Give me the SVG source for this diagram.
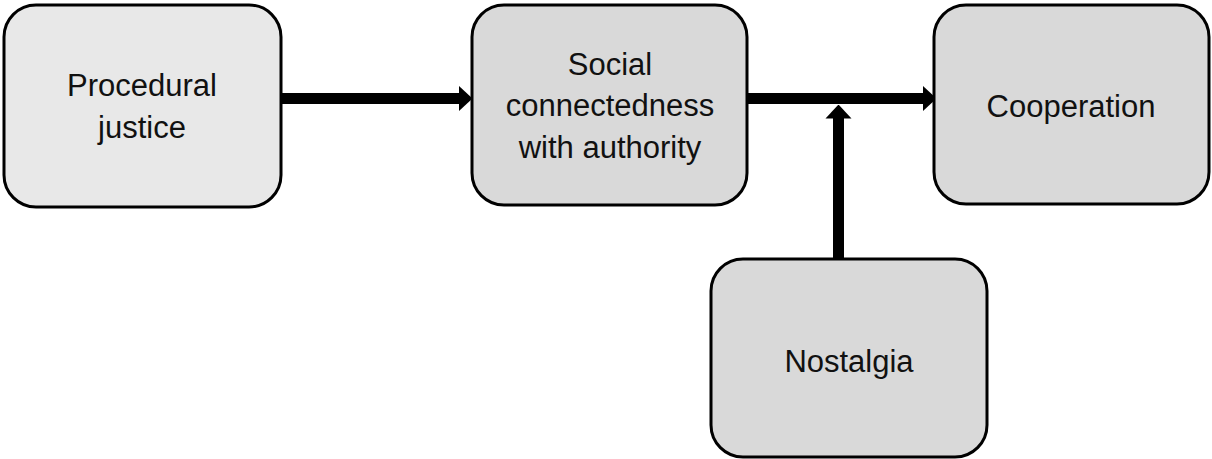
<svg xmlns="http://www.w3.org/2000/svg" width="1212" height="459" viewBox="0 0 1212 459">
<style>
.box{stroke:#000;stroke-width:3}
.lbl{font-family:"Liberation Sans",Arial,sans-serif;font-size:31px;fill:#111;text-anchor:middle}
.conn{stroke:#000;stroke-width:11;fill:none}
</style>
<defs>
<marker id="ah" markerUnits="userSpaceOnUse" markerWidth="14" markerHeight="28" refX="0.5" refY="14" orient="auto" viewBox="0 0 14 28">
<path d="M0,1 L14,14 L0,27 Z" fill="#000"/>
</marker>
</defs>
<rect width="1212" height="459" fill="#fff"/>
<g id="connectors">
<line class="conn" x1="281" y1="98.5" x2="459" y2="98.5" marker-end="url(#ah)"/>
<line class="conn" x1="747" y1="98.5" x2="923" y2="98.5" marker-end="url(#ah)"/>
<line class="conn" x1="838.5" y1="259" x2="838.5" y2="118" marker-end="url(#ah)"/>
</g>
<g id="procedural-justice">
<rect class="box" x="4" y="5" width="277" height="202" rx="32" fill="#e8e8e8"/>
<text class="lbl" x="142" y="96">Procedural</text>
<text class="lbl" x="142" y="138">justice</text>
</g>
<g id="social-connectedness">
<rect class="box" x="472" y="5" width="275" height="200" rx="32" fill="#d9d9d9"/>
<text class="lbl" x="610" y="75">Social</text>
<text class="lbl" x="610" y="116">connectedness</text>
<text class="lbl" x="610" y="158">with authority</text>
</g>
<g id="cooperation">
<rect class="box" x="934" y="5" width="275" height="199" rx="32" fill="#d9d9d9"/>
<text class="lbl" x="1071" y="117">Cooperation</text>
</g>
<g id="nostalgia">
<rect class="box" x="711" y="259" width="276" height="198" rx="32" fill="#d9d9d9"/>
<text class="lbl" x="849" y="372">Nostalgia</text>
</g>
</svg>
